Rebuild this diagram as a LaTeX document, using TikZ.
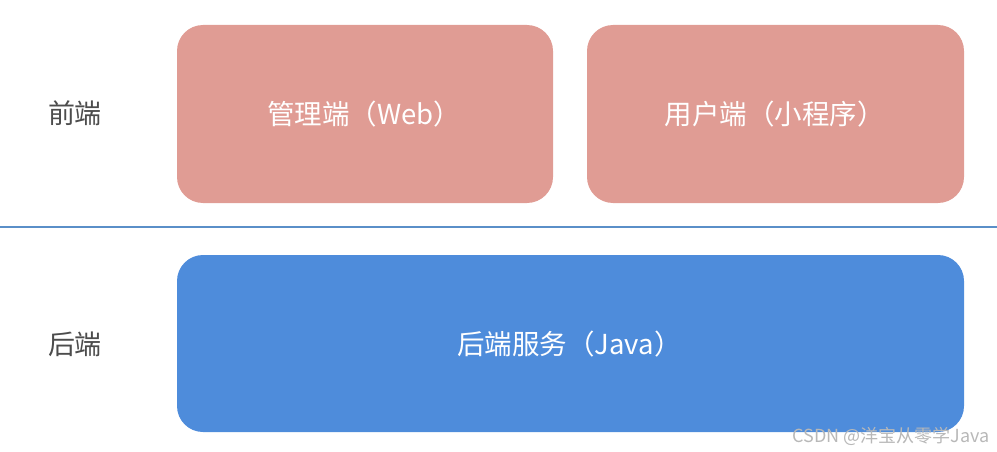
\documentclass[tikz,border=0pt]{standalone}
\usepackage{fontspec}
\setmainfont{Noto Sans CJK SC}
\begin{document}
\begin{tikzpicture}[x=1pt,y=-1pt,
  box/.style={rounded corners=26pt,inner sep=0pt},
  boxtext/.style={text=white,font=\fontsize{27.5}{32}\selectfont},
  side/.style={text=black!70,font=\fontsize{27}{32}\selectfont},
  wm/.style={text=black!28,font=\fontsize{18}{21}\selectfont}]
\useasboundingbox (0,0) rectangle (997,452);
\definecolor{pinkbox}{HTML}{E09C94}
\definecolor{bluebox}{HTML}{4E8CDB}
\definecolor{sepline}{HTML}{5A8FC8}
\fill[pinkbox,box] (177,25) rectangle (553,203);
\fill[pinkbox,box] (587,25) rectangle (964,203);
\fill[bluebox,box] (177,255) rectangle (964,432);
\node[boxtext] (web) at (364,114) {管理端（Web）};
\node[boxtext] (mini) at (774.5,114) {用户端（小程序）};
\node[boxtext] (java) at (569.5,344) {后端服务（Java）};
\node[side] (fe) at (75,113) {前端};
\node[side] (be) at (75,344) {后端};
\draw[sepline,line width=1.5pt] (0,227) -- (997,227);
\node[wm,anchor=east] (mark) at (993,436) {CSDN @洋宝从零学Java};
\end{tikzpicture}
\end{document}
